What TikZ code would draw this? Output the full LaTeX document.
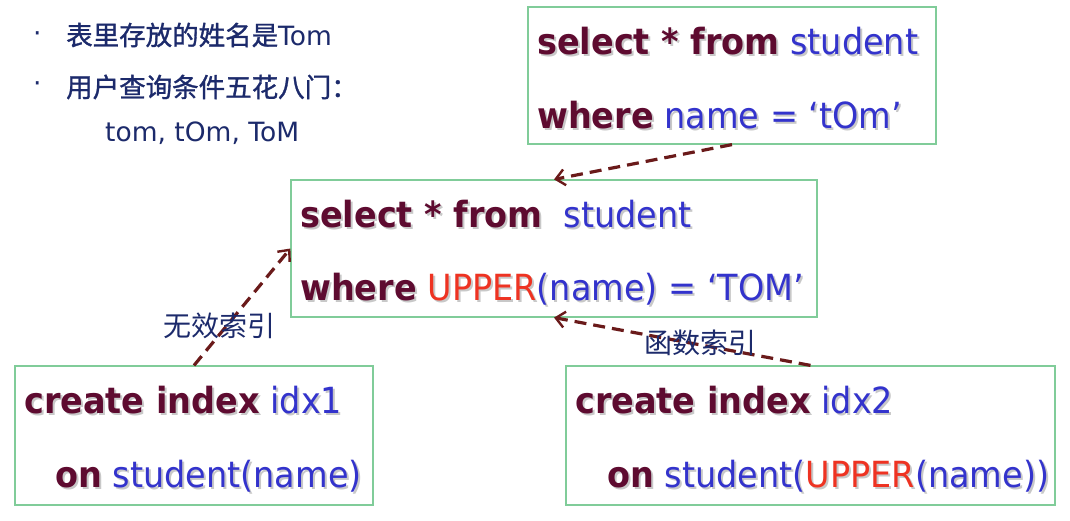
\documentclass[tikz,border=0pt]{standalone}
\usepackage{fontspec}
\setmainfont{DejaVu Sans}
\newfontfamily\sqlfont{DejaVu Sans}[FakeStretch=0.93]
\newfontfamily\cjk{Noto Sans CJK SC}
\newfontfamily\cjkb{Noto Sans CJK SC}[FakeBold=1.2]
\usetikzlibrary{arrows.meta,calc}
\definecolor{kwc}{HTML}{5E0B30}
\definecolor{idc}{HTML}{3333CC}
\definecolor{fnc}{HTML}{EE3322}
\definecolor{shc}{HTML}{C8C8C8}
\definecolor{navy}{HTML}{1C2A6B}
\definecolor{boxc}{HTML}{80CC99}
\definecolor{arrc}{HTML}{6A1A1A}
\newcommand\kw[1]{{\color{kwc}\bfseries #1}}
\newcommand\idt[1]{{\color{idc}#1}}
\newcommand\fn[1]{{\color{fnc}#1}}
\newcommand\sqlline[3]{%
  \node[sql,shadowtext] (#2s) at ($(#1)+(2,2)$) {#3};
  \node[sql] (#2) at (#1) {#3};}
\tikzset{
  box/.style={draw=boxc,line width=1.2pt,inner sep=0pt},
  sql/.style={anchor=base west,inner sep=0pt,font=\sqlfont\fontsize{36}{40}\selectfont},
  shadowtext/.style={execute at begin node={\colorlet{kwc}{shc}\colorlet{idc}{shc}\colorlet{fnc}{shc}}},
  arr/.style={draw=arrc,line width=3.2pt,dash pattern=on 12pt off 7pt,
    -{Straight Barb[length=9pt,width=16pt,line width=2.4pt]}},
  lbl/.style={text=navy,inner sep=0pt,font=\cjk\fontsize{28}{32}\selectfont},
  lt/.style={text=navy,inner sep=0pt,anchor=west,font=\fontsize{26.5}{30}\selectfont},
}
\begin{document}
\begin{tikzpicture}[x=1pt,y=-1pt]
\useasboundingbox (0,0) rectangle (1070,520);
% boxes
\node[box,minimum width=408,minimum height=137] (q1) at (732,75.5) {};
\node[box,minimum width=526,minimum height=137] (mid) at (554,248.5) {};
\node[box,minimum width=358,minimum height=139] (bl) at (194,435.5) {};
\node[box,minimum width=489,minimum height=139] (br) at (810.5,435.5) {};
% text lines
\sqlline{537,54}{t1}{\kw{select * from} \idt{student}}
\sqlline{537,128}{t2}{\kw{where} \idt{name = ‘tOm’}}
\sqlline{300,227}{m1}{\kw{select * from}\ \ \idt{student}}
\sqlline{300,300}{m2}{\kw{where} \fn{UPPER}\idt{(name) = ‘TOM’}}
\sqlline{24,413}{b1}{\kw{create index} \idt{idx1}}
\sqlline{55,487}{b2}{\kw{on} \idt{student(name)}}
\sqlline{575,413}{r1}{\kw{create index} \idt{idx2}}
\sqlline{607,487}{r2}{\kw{on} \idt{student(}\fn{UPPER}\idt{(name))}}
% left notes
\node[lt] (d1) at (33,37) {·};
\node[lt] (d2) at (33,87) {·};
\node[lt] (n1) at (66,35) {{\cjkb 表里存放的姓名是}Tom};
\node[lt] (n2) at (66,87) {{\cjkb 用户查询条件五花八门：}};
\node[lt] (n3) at (105,133) {tom, tOm, ToM};
% arrows
\draw[arr] (q1.south) -- (mid.north);
\draw[arr] (bl.north) -- (mid.west);
\draw[arr] (br.north) -- (mid.south);
\node[lbl] (l1) at (219,326) {无效索引};
\node[lbl] (l2) at (700,343) {函数索引};
\end{tikzpicture}
\end{document}
